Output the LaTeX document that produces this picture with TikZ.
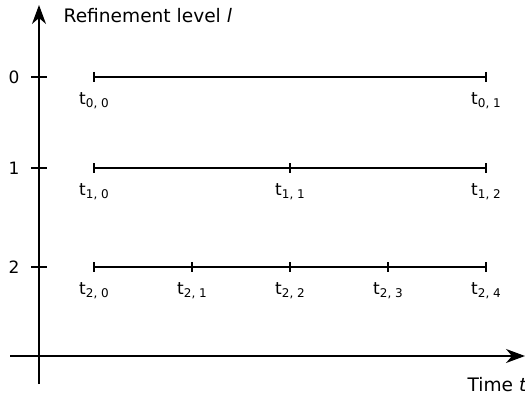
\documentclass[tikz,border=0pt]{standalone}
\usepackage{fontspec}
\setmainfont{DejaVu Sans}
\usetikzlibrary{calc,arrows.meta}

% time point label t_{l, k}
\newcommand{\tlab}[2]{t\raisebox{-0.4ex}{\fontsize{12}{13}\selectfont #1, #2}}

\tikzset{
	axisarrow/.style={-{Stealth[length=19pt,width=14pt,inset=6pt]}},
	tlabel/.style={anchor=base,inner sep=0pt,font=\fontsize{17}{19}\selectfont},
	levellabel/.style={inner sep=0pt,font=\fontsize{17}{19}\selectfont},
	axislabel/.style={anchor=base west,inner sep=0pt,font=\fontsize{18.6}{21}\selectfont},
}

\begin{document}
\begin{tikzpicture}[x=1pt,y=-1pt,line width=1.3pt]
	\useasboundingbox (0,0) rectangle (525,396);
	% axes
	\coordinate (xstart) at (10,356);
	\coordinate (xend) at (525,356);
	\coordinate (ystart) at (39,384);
	\coordinate (yend) at (39,5);
	\draw[axisarrow] (xstart) -- (xend);
	\draw[axisarrow] (ystart) -- (yend);
	\node[axislabel] (ylab) at (63,23) {Refinement level \textit{l}};
	\node[axislabel] (xlab) at (467,391) {Time \textit{t}};
	% level ticks on the vertical axis
	\draw (31,77) -- (47,77);
	\node[levellabel] (lev0) at (14,77) {0};
	\draw (31,168) -- (47,168);
	\node[levellabel] (lev1) at (14,168) {1};
	\draw (31,267) -- (47,267);
	\node[levellabel] (lev2) at (14,267) {2};
	% level 0
	\coordinate (p00) at (94,77);
	\coordinate (p01) at (486,77);
	\draw (p00) -- (p01);
	\draw ([yshift=5pt]p00) -- ([yshift=-5pt]p00);
	\draw ([yshift=5pt]p01) -- ([yshift=-5pt]p01);
	\node[tlabel] (t00) at ($(p00)+(0,27)$) {\tlab{0}{0}};
	\node[tlabel] (t01) at ($(p01)+(0,27)$) {\tlab{0}{1}};
	% level 1
	\coordinate (p10) at (94,168);
	\coordinate (p11) at (290,168);
	\coordinate (p12) at (486,168);
	\draw (p10) -- (p12);
	\draw ([yshift=5pt]p10) -- ([yshift=-5pt]p10);
	\draw ([yshift=5pt]p11) -- ([yshift=-5pt]p11);
	\draw ([yshift=5pt]p12) -- ([yshift=-5pt]p12);
	\node[tlabel] (t10) at ($(p10)+(0,27)$) {\tlab{1}{0}};
	\node[tlabel] (t11) at ($(p11)+(0,27)$) {\tlab{1}{1}};
	\node[tlabel] (t12) at ($(p12)+(0,27)$) {\tlab{1}{2}};
	% level 2
	\coordinate (p20) at (94,267);
	\coordinate (p21) at (192,267);
	\coordinate (p22) at (290,267);
	\coordinate (p23) at (388,267);
	\coordinate (p24) at (486,267);
	\draw (p20) -- (p24);
	\draw ([yshift=5pt]p20) -- ([yshift=-5pt]p20);
	\draw ([yshift=5pt]p21) -- ([yshift=-5pt]p21);
	\draw ([yshift=5pt]p22) -- ([yshift=-5pt]p22);
	\draw ([yshift=5pt]p23) -- ([yshift=-5pt]p23);
	\draw ([yshift=5pt]p24) -- ([yshift=-5pt]p24);
	\node[tlabel] (t20) at ($(p20)+(0,27)$) {\tlab{2}{0}};
	\node[tlabel] (t21) at ($(p21)+(0,27)$) {\tlab{2}{1}};
	\node[tlabel] (t22) at ($(p22)+(0,27)$) {\tlab{2}{2}};
	\node[tlabel] (t23) at ($(p23)+(0,27)$) {\tlab{2}{3}};
	\node[tlabel] (t24) at ($(p24)+(0,27)$) {\tlab{2}{4}};
\end{tikzpicture}
\end{document}
